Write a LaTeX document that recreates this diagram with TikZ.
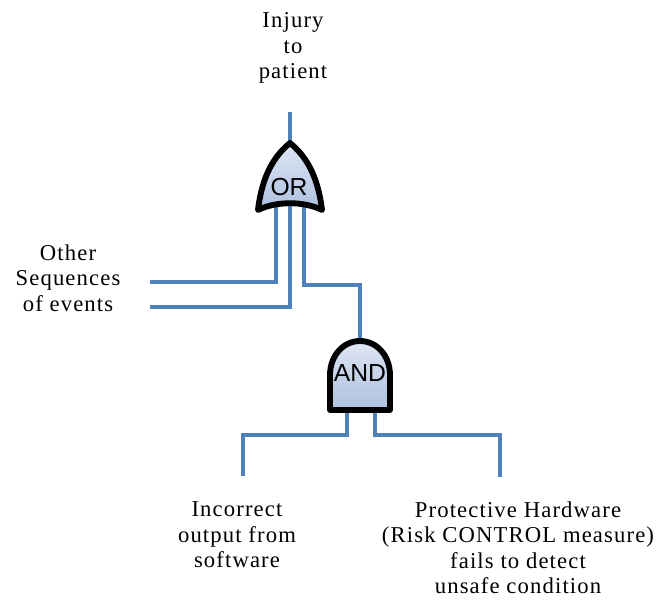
\documentclass[tikz,border=0pt]{standalone}
\usepackage{fontspec}
\setmainfont{Liberation Serif}[LetterSpace=5]
\newfontfamily\gatefont{Liberation Sans}
\usetikzlibrary{positioning}

\definecolor{wireblue}{RGB}{79,129,189}
\definecolor{gatelight}{RGB}{222,230,243}
\definecolor{gatedark}{RGB}{172,192,222}

\begin{document}
\begin{tikzpicture}[
    x=0.75pt, y=-0.75pt,
    wire/.style={draw=wireblue, line width=2.6pt},
    gate/.style={draw=black, line width=4.4pt, line join=round, top color=gatelight, bottom color=gatedark},
    event/.style={align=center, inner sep=0pt, font=\fontsize{17}{19.1}\selectfont},
    gatelabel/.style={inner sep=0pt, font=\gatefont\fontsize{18.5}{20}\selectfont}
]
\useasboundingbox (0,0) rectangle (662,600);

% Event labels
\node[event, anchor=north] (injury-label) at (293,12.5) {Injury\\to\\patient};
\node[event, anchor=north] (other-label) at (68,244.5) {Other\\Sequences\\of events};
\node[event, anchor=north] (software-label) at (237,501.5) {Incorrect\\output from\\software};
\node[event, anchor=north] (hardware-label) at (518,501.5) {Protective Hardware\\(Risk CONTROL measure)\\fails to detect\\unsafe condition};

% Wire ends and gate pins
\coordinate (injury-end) at (290,112);
\coordinate (other-end1) at (150,282);
\coordinate (other-end2) at (150,307);
\coordinate (software-end) at (243,476);
\coordinate (hardware-end) at (500,477);
\coordinate (or-out) at (290,150);
\coordinate (or-in1) at (276,200);
\coordinate (or-in2) at (290,200);
\coordinate (or-in3) at (304,200);
\coordinate (and-out) at (360,348);
\coordinate (and-in1) at (347,404);
\coordinate (and-in2) at (375,404);

% Wires
\draw[wire] (injury-end) -- (or-out);
\draw[wire] (other-end1) -| (or-in1);
\draw[wire] (other-end2) -| (or-in2);
\draw[wire] (or-in3) -- ++(0,85) -| (and-out);
\draw[wire] (and-in1) -- ++(0,31) -| (software-end);
\draw[wire] (and-in2) -- ++(0,31) -| (hardware-end);

% OR gate
\draw[gate] (258,210) .. controls (262,176) and (274,156) .. (290,143)
    .. controls (306,156) and (318,176) .. (322,210)
    .. controls (304,201) and (276,201) .. (258,210) -- cycle;
\node[gatelabel] (or-text) at (289,187) {OR};

% AND gate
\draw[gate] (330,410) -- (330,375) .. controls (330,356) and (343,341) .. (360,341)
    .. controls (377,341) and (390,356) .. (390,375) -- (390,410) -- cycle;
\node[gatelabel] (and-text) at (360,373) {AND};

\end{tikzpicture}
\end{document}
